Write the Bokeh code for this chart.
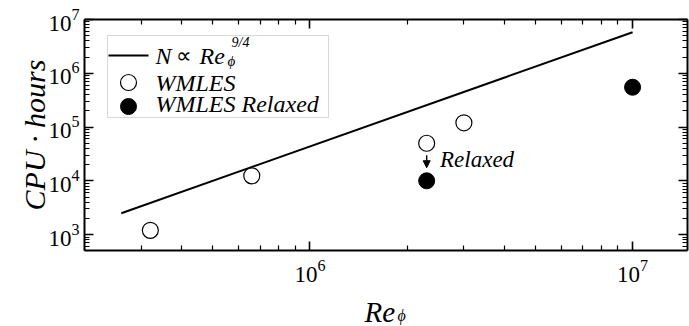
import math
from bokeh.plotting import figure
from bokeh.layouts import column
from bokeh.models import (Range1d, LinearScale, LogAxis, FixedTicker, Label,
                          BoxAnnotation, Arrow, NormalHead, CustomJSTickFormatter)
from bokeh.embed import file_html
from bokeh.resources import INLINE

# ---- data ----
re_wmles = [3.2e5, 6.6e5, 2.3e6, 3.0e6]
cpu_wmles = [1.2e3, 1.24e4, 5.0e4, 1.2e5]
re_relaxed = [2.3e6, 1.0e7]
cpu_relaxed = [1.0e4, 5.5e5]
re_scaling = [2.6e5, 1.0e7]
cpu_scaling = [2.5e3, 5.8e6]
x_major_ticks = [1e5, 1e6, 1e7]
y_major_ticks = [1e3, 1e4, 1e5, 1e6, 1e7]
legend_labels = ["WMLES", "WMLES Relaxed"]
annotation_text = "Relaxed"

minor_ticks = [m * 10 ** e for e in range(2, 8) for m in range(2, 10)]

FW, FH = 603, 231
SERIF = "Liberation Serif"
OFF = 8  # label baseline correction (px)

p = figure(x_axis_type="log", y_axis_type="log",
           x_range=(2.0e5, 1.48e7), y_range=(5.06e2, 1.0e7),
           frame_width=FW, frame_height=FH,
           min_border_left=84, min_border_right=2, min_border_top=19, min_border_bottom=42,
           output_backend="svg", toolbar_location=None)
p.grid.visible = False
p.outline_line_color = None
p.background_fill_color = "white"
p.border_fill_color = "white"

p.extra_x_ranges = {"px": Range1d(0, FW)}
p.extra_x_scales = {"px": LinearScale()}
p.extra_y_ranges = {"px": Range1d(0, FH)}
p.extra_y_scales = {"px": LinearScale()}


def style_axis(ax, ticks, labels=True):
    ax.ticker = FixedTicker(ticks=ticks, minor_ticks=minor_ticks)
    ax.axis_line_width = 2
    ax.axis_line_color = "black"
    ax.major_tick_in = 9
    ax.major_tick_out = 0
    ax.minor_tick_in = 5
    ax.minor_tick_out = 0
    ax.major_tick_line_width = 1.6
    ax.minor_tick_line_width = 1.2
    ax.major_tick_line_color = "black"
    ax.minor_tick_line_color = "black"
    ax.major_label_text_font = SERIF
    ax.major_label_text_font_size = "23px"
    ax.major_label_text_color = "black"
    if not labels:
        ax.formatter = CustomJSTickFormatter(code="return ''")
        ax.major_label_standoff = 0


style_axis(p.xaxis[0], x_major_ticks)
p.xaxis[0].major_label_standoff = 9
style_axis(p.yaxis[0], y_major_ticks)
p.yaxis[0].major_label_standoff = 5
p.yaxis[0].axis_label = "CPU \u00b7 hours"
p.yaxis[0].axis_label_text_font = SERIF
p.yaxis[0].axis_label_text_font_style = "italic"
p.yaxis[0].axis_label_text_font_size = "30px"
p.yaxis[0].axis_label_text_color = "black"
p.yaxis[0].axis_label_standoff = -6

top = LogAxis()
style_axis(top, x_major_ticks, labels=False)
p.add_layout(top, "above")
right = LogAxis()
style_axis(right, y_major_ticks, labels=False)
p.add_layout(right, "right")

# ---- data marks ----
p.line(re_scaling, cpu_scaling, line_width=2, line_color="black")
p.scatter(re_wmles, cpu_wmles, size=16, marker="circle",
          fill_color="white", line_color="black", line_width=1.2)
p.scatter(re_relaxed, cpu_relaxed, size=16, marker="circle",
          fill_color="black", line_color="black")

# arrow + annotation
p.add_layout(Arrow(end=NormalHead(size=7, fill_color="black", line_color="black"),
                   x_start=re_relaxed[0], y_start=3.0e4, x_end=re_relaxed[0], y_end=1.75e4,
                   line_width=1.4, line_color="black"))
p.add_layout(Label(x=2.53e6, y=2.5e4, text=annotation_text, text_font=SERIF,
                   text_font_style="italic", text_font_size="23px",
                   text_baseline="alphabetic", text_color="black"))

# ---- legend (frame pixel coordinates) ----
p.add_layout(BoxAnnotation(left=23, right=244, bottom=133, top=215,
                           x_range_name="px", y_range_name="px", level="underlay",
                           fill_color="white", fill_alpha=1.0,
                           line_color="#7f7f7f", line_width=1))
p.segment(x0=[24], y0=[195], x1=[64], y1=[195], x_range_name="px", y_range_name="px",
          line_width=2, line_color="black")
p.scatter(x=[44], y=[168], x_range_name="px", y_range_name="px", size=16,
          fill_color="white", line_color="black", line_width=1.2)
p.scatter(x=[44], y=[144], x_range_name="px", y_range_name="px", size=16,
          fill_color="black", line_color="black")


def lab(fig, x, y, text, size, style="italic", xr="px", yr="px"):
    fig.add_layout(Label(x=x, y=y + OFF, text=text, x_range_name=xr, y_range_name=yr,
                         text_font=SERIF, text_font_style=style, text_font_size=size,
                         text_color="black", text_baseline="alphabetic"))


lab(p, 71, 187, "N", "24px")
lab(p, 91, 187, "\u221d", "22px", style="normal")
lab(p, 115, 187, "Re", "24px")
lab(p, 143, 182, "\u03d5", "15px")
lab(p, 147, 200, "9/4", "14px")
lab(p, 71, 160, legend_labels[0], "24px")
lab(p, 71, 139, legend_labels[1], "24px")

# ---- x-axis title strip (aligned with the main frame: x in page pixels) ----
QH = 34
q = figure(frame_width=FW, frame_height=QH, x_range=(84, 84 + FW), y_range=(0, QH),
           min_border_left=84, min_border_right=2, min_border_top=0, min_border_bottom=0,
           x_axis_location=None, y_axis_location=None, title=None,
           output_backend="svg", toolbar_location=None)
q.grid.visible = False
q.outline_line_color = None
q.border_fill_color = "white"
q.background_fill_color = "white"
lab(q, 364, 7, "Re", "29px", xr="default", yr="default")
lab(q, 397, 3, "\u03d5", "16px", xr="default", yr="default")

layout = column(p, q, spacing=0)
open("out.html", "w").write(file_html(layout, INLINE))
